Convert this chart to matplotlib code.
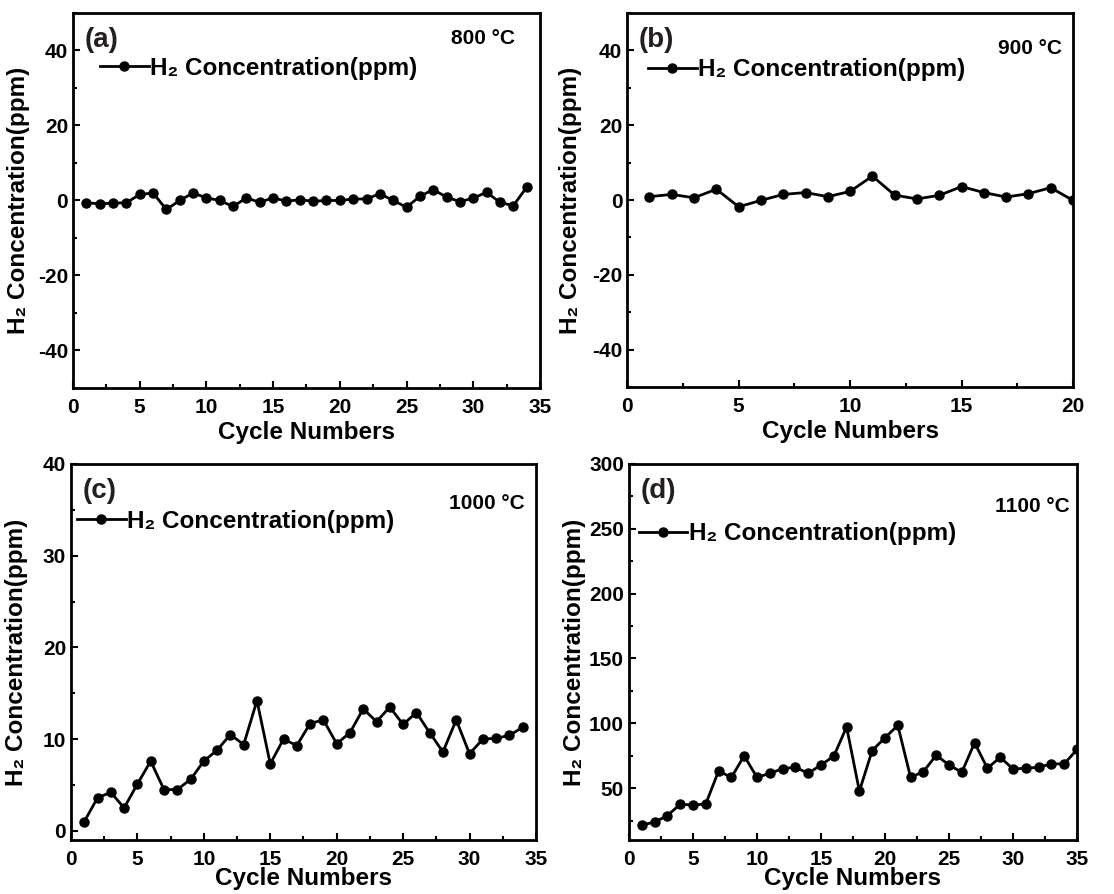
import numpy as np
import matplotlib
matplotlib.use('Agg')
from matplotlib import pyplot as plt
from matplotlib.ticker import MultipleLocator

plt.rcParams['font.family'] = ['Liberation Sans', 'DejaVu Sans']
plt.rcParams['font.weight'] = 'bold'
plt.rcParams['axes.unicode_minus'] = False

# Panel data
h2_800 = [-0.6, -0.9, -0.7, -0.6, 1.6, 2.0, -2.4, 0.0, 2.0, 0.7,
          0.0, -1.6, 0.7, -0.5, 0.7, -0.2, 0.2, -0.2, 0.0, 0.0,
          0.4, 0.4, 1.8, 0.0, -1.8, 1.1, 2.9, 0.9, -0.3, 0.6,
          2.2, -0.5, -1.4, 3.5]
h2_900 = [0.9, 1.5, 0.6, 2.9, -1.8, -0.1, 1.5, 2.0, 0.9, 2.3,
          6.4, 1.3, 0.3, 1.25, 3.6, 2.0, 0.8, 1.7, 3.3, -0.1]
h2_1000 = [1.0, 3.6, 4.2, 2.5, 5.1, 7.6, 4.5, 4.5, 5.6, 7.6,
           8.8, 10.5, 9.4, 14.2, 7.3, 10.0, 9.3, 11.7, 12.1, 9.5,
           10.7, 13.3, 11.9, 13.5, 11.6, 12.9, 10.7, 8.6, 12.1, 8.4,
           10.0, 10.1, 10.4, 11.3]
h2_1100 = [21.5, 23.8, 28.8, 37.6, 37.0, 37.8, 63.2, 58.3, 74.9, 58.3,
           61.4, 65.0, 66.1, 61.4, 67.9, 74.6, 97.2, 47.7, 79.0, 88.9,
           98.4, 58.3, 62.7, 75.4, 67.9, 62.2, 85.0, 65.3, 73.8, 64.8,
           65.3, 66.1, 68.7, 68.7, 79.8]

panel_tags = ['(a)', '(b)', '(c)', '(d)']
temps = ['800 °C', '900 °C', '1000 °C', '1100 °C']
series = [h2_800, h2_900, h2_1000, h2_1100]
xlims = [(0, 35), (0, 20), (0, 35), (0, 35)]
ylims = [(-50, 50), (-50, 50), (-1, 40), (10, 300)]
ymajor = [20, 20, 10, 50]
yminor = [10, 10, 5, 25]

# axes rectangles in figure fractions (left, bottom, width, height)
rects = [
    (0.0655, 0.566, 0.4192, 0.4195),
    (0.5630, 0.567, 0.4002, 0.4185),
    (0.0637, 0.0604, 0.4174, 0.4206),
    (0.5646, 0.0604, 0.4022, 0.4206),
]
legend_xy = [(0.058, 0.853), (0.047, 0.848), (0.013, 0.848), (0.022, 0.814)]
temp_xy = [(0.946, 0.933), (0.975, 0.904), (0.976, 0.896), (0.984, 0.886)]
ylabel_x = [-0.092, -0.101, -0.092, -0.096]
xlabel_pad = [3, 3, -1, -1]

fig = plt.figure(figsize=(11.14, 8.94), dpi=100)

for i in range(4):
    ax = fig.add_axes(rects[i])
    y = np.array(series[i])
    x = np.arange(1, len(y) + 1)
    ax.plot(x, y, 'k-', lw=2, marker='o', ms=6.5, label='H₂ Concentration(ppm)')
    ax.set_xlim(*xlims[i])
    ax.set_ylim(*ylims[i])
    ax.xaxis.set_major_locator(MultipleLocator(5))
    ax.xaxis.set_minor_locator(MultipleLocator(2.5))
    ax.yaxis.set_major_locator(MultipleLocator(ymajor[i]))
    ax.yaxis.set_minor_locator(MultipleLocator(yminor[i]))
    if i == 3:
        ax.set_yticks([50, 100, 150, 200, 250, 300])
    ax.tick_params(which='both', direction='in', top=False, right=False,
                   labelsize=15, width=1.5)
    ax.tick_params(axis='x', which='major', pad=7)
    ax.tick_params(which='major', length=5)
    ax.tick_params(which='minor', length=3)
    for lab in ax.get_xticklabels() + ax.get_yticklabels():
        lab.set_fontweight('bold')
    for sp in ax.spines.values():
        sp.set_linewidth(2)
    ax.set_xlabel('Cycle Numbers', fontsize=17.5, fontweight='bold', labelpad=xlabel_pad[i])
    ax.set_ylabel('H₂ Concentration(ppm)', fontsize=17.5, fontweight='bold')
    ax.yaxis.set_label_coords(ylabel_x[i], 0.5)
    ax.text(0.026, 0.928, panel_tags[i], transform=ax.transAxes, fontsize=20,
            fontweight='bold', va='center', ha='left', color='#231f20')
    ax.text(temp_xy[i][0], temp_xy[i][1], temps[i], transform=ax.transAxes, fontsize=15,
            fontweight='bold', va='center', ha='right')
    ax.legend(loc='center left', bbox_to_anchor=legend_xy[i], frameon=False,
              prop={'size': 17.5, 'weight': 'bold'}, handlelength=2.0, handletextpad=0.05,
              borderaxespad=0, borderpad=0)

fig.savefig('out.png', dpi=100)
